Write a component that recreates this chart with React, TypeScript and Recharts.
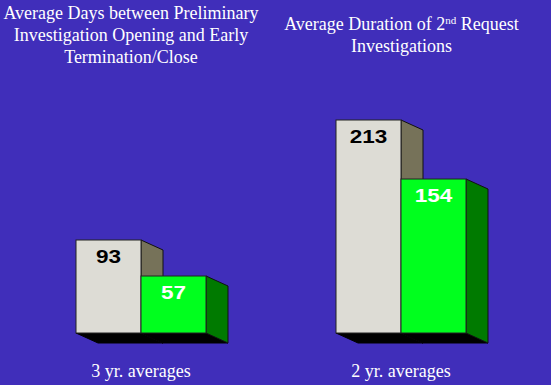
import React from "react";
import { BarChart, Bar, XAxis, YAxis, LabelList } from "recharts";

const categories = ["3 yr. averages", "2 yr. averages"];
const firstValues = [93, 213];
const secondValues = [57, 154];

const data = categories.map((c, i) => ({ name: c, a: firstValues[i], b: secondValues[i] }));

const BG = "#402eba";
const DX = 22;
const DY = 10;

const make3D = (front: string, side: string) => (props: any) => {
  const { x, y, width, height } = props;
  const side1 = `${x + width},${y} ${x + width + DX},${y + DY} ${x + width + DX},${y + height + DY} ${x + width},${y + height}`;
  const bottom = `${x},${y + height} ${x + width},${y + height} ${x + width + DX},${y + height + DY} ${x + DX},${y + height + DY}`;
  return (
    <g>
      <polygon points={bottom} fill="#000" stroke="#000" strokeWidth={1} />
      <polygon points={side1} fill={side} stroke="#111" strokeWidth={1} strokeLinejoin="round" />
      <rect x={x} y={y} width={width} height={height} fill={front} stroke="#222" strokeWidth={1} />
    </g>
  );
};

const makeLabel = (color: string) => (props: any) => {
  const { x, y, width, value } = props;
  return (
    <g transform={`translate(${x + width / 2},${y + 23}) scale(1.25,1)`}>
      <text
        x={0}
        y={0}
        textAnchor="middle"
        fill={color}
        fontFamily="'Liberation Sans', Arial, sans-serif"
        fontWeight="bold"
        fontSize={18}
      >
        {value}
      </text>
    </g>
  );
};

const Tick = (props: any) => {
  const { x, y, payload } = props;
  return (
    <text
      x={x}
      y={y + 36}
      textAnchor="middle"
      fill="#fff"
      fontFamily="'Liberation Serif', 'Times New Roman', serif"
      fontSize={18}
    >
      {payload.value}
    </text>
  );
};

const titleStyle: React.CSSProperties = {
  position: "absolute",
  color: "#fff",
  fontFamily: "'Liberation Serif', 'Times New Roman', serif",
  fontSize: 18,
  lineHeight: "22px",
  textAlign: "center",
};

export default function App() {
  return (
    <div style={{ position: "absolute", left: 0, top: 0, width: 551, height: 385, background: BG, overflow: "hidden" }}>
      <BarChart
        width={551}
        height={385}
        data={data}
        margin={{ top: 83, right: 20, left: 11, bottom: 0 }}
        barGap={0}
        barSize={65}
      >
        <XAxis dataKey="name" axisLine={false} tickLine={false} height={52} tick={<Tick />} interval={0} />
        <YAxis hide domain={[0, 250]} />
        <Bar dataKey="a" isAnimationActive={false} shape={make3D("#dddcd5", "#767259")}>
          <LabelList dataKey="a" content={makeLabel("#000")} />
        </Bar>
        <Bar dataKey="b" isAnimationActive={false} shape={make3D("#00ff1e", "#007a00")}>
          <LabelList dataKey="b" content={makeLabel("#fff")} />
        </Bar>
      </BarChart>
      <div style={{ ...titleStyle, left: 0, top: 2, width: 262 }}>
        Average Days between Preliminary
        <br />
        Investigation Opening and Early
        <br />
        Termination/Close
      </div>
      <div style={{ ...titleStyle, left: 271, top: 13, width: 261 }}>
        Average Duration of 2<sup style={{ fontSize: 11, lineHeight: 0, verticalAlign: "6px" }}>nd</sup> Request
        <br />
        Investigations
      </div>
    </div>
  );
}
